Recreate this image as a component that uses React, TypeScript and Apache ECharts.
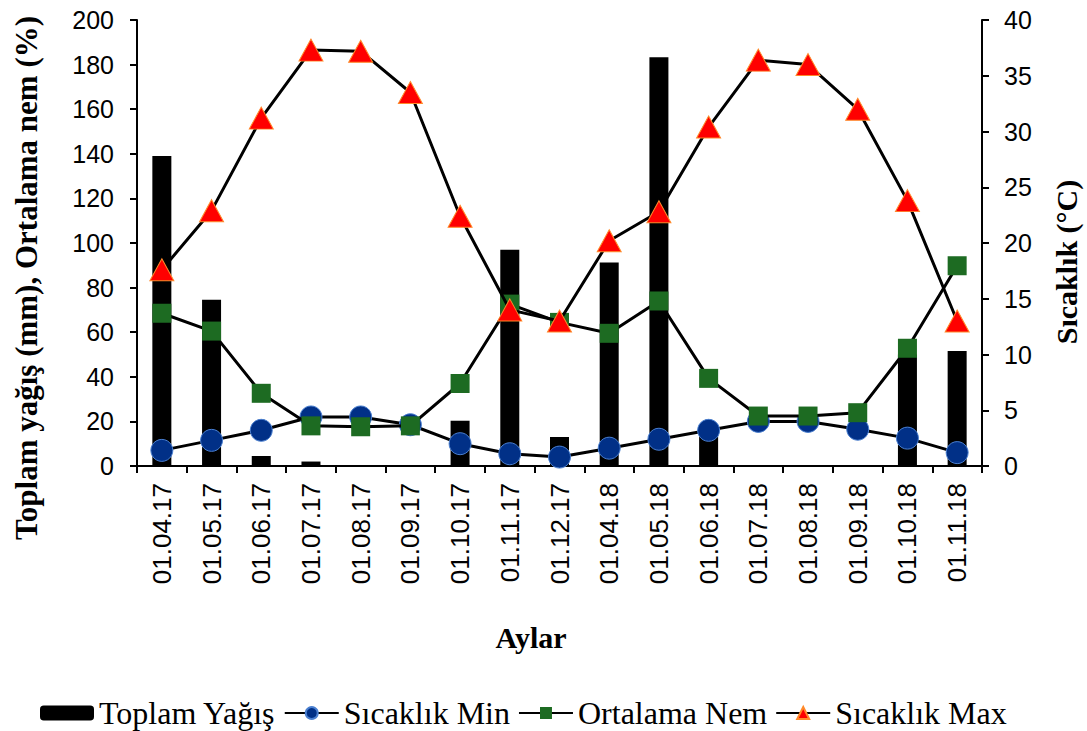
import React, { useEffect, useRef } from "react";
import * as echarts from "echarts";

const categories = ["01.04.17","01.05.17","01.06.17","01.07.17","01.08.17","01.09.17","01.10.17","01.11.17","01.12.17","01.04.18","01.05.18","01.06.18","01.07.18","01.08.18","01.09.18","01.10.18","01.11.18"];
const toplamYagis = [139, 74.5, 4.5, 2, 0, 0, 20.3, 97, 13, 91.3, 183.3, 16, 0, 0, 0, 50, 51.6];
const sicaklikMin = [1.4, 2.3, 3.2, 4.4, 4.4, 3.7, 2.0, 1.1, 0.8, 1.6, 2.4, 3.2, 4.0, 4.0, 3.3, 2.5, 1.2];
const ortalamaNem = [68.5, 60.5, 32.6, 18, 17.6, 18, 37, 72.6, 64.4, 59.5, 74, 39.3, 22.4, 22.4, 23.9, 52.8, 89.8];
const sicaklikMax = [17.6, 22.9, 31.2, 37.3, 37.2, 33.5, 22.4, 14.0, 13.0, 20.2, 22.8, 30.4, 36.4, 36.0, 32.0, 23.8, 13.0];
const leftTicks = { min: 0, max: 200, interval: 20 };
const rightTicks = { min: 0, max: 40, interval: 5 };
const leftAxisTitle = "Toplam yağış (mm), Ortalama nem (%)";
const rightAxisTitle = "Sıcaklık (°C)";
const xAxisTitle = "Aylar";

const SANS = "Liberation Sans, Arial, sans-serif";
const SERIF = "Liberation Serif, Times New Roman, serif";

export default function App() {
  const ref = useRef<HTMLDivElement>(null);
  useEffect(() => {
    if (!ref.current) return;
    const chart = echarts.init(ref.current, null, { renderer: "svg" });
    chart.setOption({
      animation: false,
      backgroundColor: "#ffffff",
      graphic: [
        {
          type: "text", x: 26, y: 278, rotation: Math.PI / 2, silent: true,
          style: { text: leftAxisTitle, font: `bold 31px ${SERIF}`, fill: "#000", textAlign: "center", textVerticalAlign: "middle" },
        },
        {
          type: "text", x: 1066, y: 262, rotation: Math.PI / 2, silent: true,
          style: { text: rightAxisTitle, font: `bold 30px ${SERIF}`, fill: "#000", textAlign: "center", textVerticalAlign: "middle" },
        },
        {
          type: "text", x: 531, y: 637, silent: true,
          style: { text: xAxisTitle, font: `bold 30px ${SERIF}`, fill: "#000", textAlign: "center", textVerticalAlign: "middle" },
        },
      ],
      grid: { left: 137, right: 105, top: 20, bottom: 265, containLabel: false },
      legend: {
        left: 35,
        top: 692,
        itemGap: 8,
        itemWidth: 54,
        itemHeight: 15,
        textStyle: { fontFamily: SERIF, fontSize: 32, color: "#000" },
        data: ["Toplam Yağış", "Sıcaklık Min", "Ortalama Nem", "Sıcaklık Max"],
      },
      xAxis: {
        type: "category",
        data: categories,
        axisLine: { lineStyle: { color: "#000", width: 2 } },
        axisTick: { show: true, length: 7, lineStyle: { color: "#000", width: 2 } },
        axisLabel: { rotate: 90, margin: 17, fontFamily: SANS, fontSize: 26, color: "#000" },
      },
      yAxis: [
        {
          type: "value",
          ...leftTicks,
          position: "left",
          axisLine: { show: true, lineStyle: { color: "#000", width: 2 } },
          axisTick: { show: true, length: 7, lineStyle: { color: "#000", width: 2 } },
          axisLabel: { margin: 23, fontFamily: SANS, fontSize: 25, color: "#000" },
          splitLine: { show: false },
        },
        {
          type: "value",
          ...rightTicks,
          position: "right",
          axisLine: { show: true, lineStyle: { color: "#000", width: 2 } },
          axisTick: { show: true, length: 7, lineStyle: { color: "#000", width: 2 } },
          axisLabel: { margin: 22, fontFamily: SANS, fontSize: 25, color: "#000" },
          splitLine: { show: false },
        },
      ],
      series: [
        {
          name: "Toplam Yağış",
          type: "bar",
          yAxisIndex: 0,
          data: toplamYagis,
          barWidth: 19,
          itemStyle: { color: "#000" },
          z: 1,
        },
        {
          name: "Sıcaklık Min",
          type: "line",
          yAxisIndex: 1,
          data: sicaklikMin,
          symbol: "circle",
          symbolSize: 22,
          lineStyle: { color: "#000", width: 3 },
          itemStyle: { color: "#013087", borderColor: "#4a7fd0", borderWidth: 1 },
          z: 3,
        },
        {
          name: "Ortalama Nem",
          type: "line",
          yAxisIndex: 0,
          data: ortalamaNem,
          symbol: "rect",
          symbolSize: 19,
          lineStyle: { color: "#000", width: 3 },
          itemStyle: { color: "#1d6b22" },
          z: 4,
        },
        {
          name: "Sıcaklık Max",
          type: "line",
          yAxisIndex: 1,
          data: sicaklikMax,
          symbol: "triangle",
          symbolSize: [24, 22],
          lineStyle: { color: "#000", width: 3 },
          itemStyle: { color: "#ff0000", borderColor: "#ff8a2a", borderWidth: 1 },
          z: 5,
        },
      ],
    });
    return () => chart.dispose();
  }, []);
  return <div ref={ref} style={{ width: 1087, height: 731, position: "absolute", left: 0, top: 0 }} />;
}
